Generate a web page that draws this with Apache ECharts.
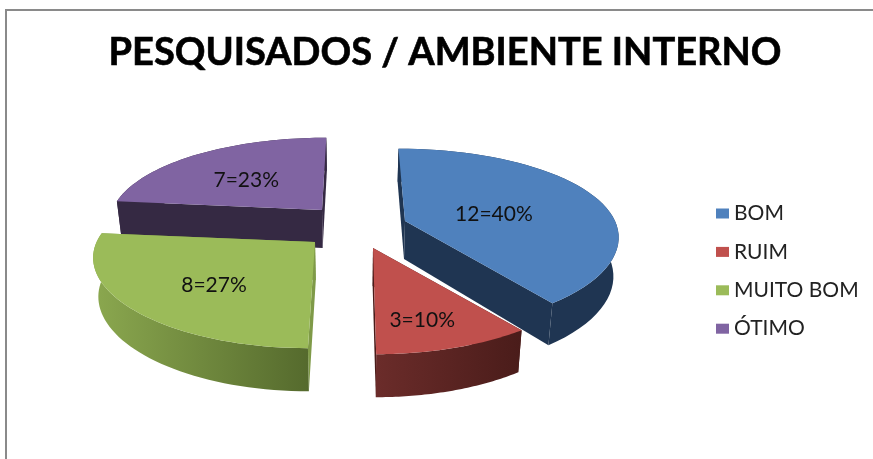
<!DOCTYPE html>
<html>
<head>
<meta charset="utf-8">
<style>html,body{margin:0;padding:0;background:#fff}#c{width:873px;height:459px}</style>
<script src="https://cdn.jsdelivr.net/npm/echarts@6/dist/echarts.min.js"></script>
</head>
<body>
<div id="c"></div>
<script>
const categories = ['BOM', 'RUIM', 'MUITO BOM', 'ÓTIMO'];
const counts = [12, 3, 8, 7];
const percents = [40, 10, 27, 23];
const titleText = 'PESQUISADOS / AMBIENTE INTERNO';

// styling / layout of the drawn 3D pie
const topColors = ['#4f81bd', '#c0504d', '#9bbb59', '#8064a2'];
const cutColors = ['#1f3552', '#4a1c1a', '#7f9a48', '#352943'];
const wallLeft = ['#1f3552', '#6b2c2a', '#8ba84f', '#352943'];
const wallRight = ['#1f3552', '#4a1c1a', '#556a2d', '#352943'];
const apexes = [[405, 221], [373, 248], [315, 242], [322, 210]];
const labelReach = [0.46, 0.72, 0.62, 0.59];
const labelNudgeX = [0, -7, 9, 0];
const radiusScale = [1, 1.04, 1.04, 1];
const seriesZ = [2, 3, 2, 1];
const RX = 210, RY = 86, K = 0.19, KX = 0.15, VX = 355, H = 38, STEPS = 48, LABEL_DY = 5;

const total = counts.reduce((a, b) => a + b, 0);
const starts = [];
counts.reduce((acc, c, i) => { starts[i] = acc; return acc + c; }, 0);

function project(i, r, ang, depth) {
  const u = r * Math.sin(ang), v = -r * Math.cos(ang);
  const s = 1 / (1 - K * v), sx = 1 / (1 - KX * v);
  const [ax, ay] = apexes[i];
  let x = VX + (ax - VX + RX * radiusScale[i] * u) * sx;
  let y = ay + RY * v * s;
  if (depth) {
    x = VX + (x - VX) * 0.98;
    y += H * (1 + 0.7 * K * v);
  }
  return [x, y];
}

function renderSlice(i) {
  return function (params, api) {
    const value = api.value(0);
    const a0 = starts[i] / total * Math.PI * 2;
    const a1 = a0 + value / total * Math.PI * 2;
    const arcTop = [], arcBot = [];
    for (let k = 0; k <= STEPS; k++) {
      const a = a0 + (a1 - a0) * k / STEPS;
      arcTop.push(project(i, 1, a, false));
      arcBot.push(project(i, 1, a, true));
    }
    const apexTop = project(i, 0, 0, false), apexBot = project(i, 0, 0, true);
    const mid = (a0 + a1) / 2;
    const lp = project(i, labelReach[i], mid, false);
    const wallFill = {
      type: 'linear', x: 0, y: 0, x2: 1, y2: 0,
      colorStops: [{ offset: 0, color: wallLeft[i] }, { offset: 1, color: wallRight[i] }]
    };
    const children = [
      { type: 'polygon', shape: { points: [apexTop, arcTop[0], arcBot[0], apexBot] }, style: { fill: cutColors[i] } },
      { type: 'polygon', shape: { points: [apexTop, arcTop[STEPS], arcBot[STEPS], apexBot] }, style: { fill: cutColors[i] } },
      { type: 'polygon', shape: { points: arcTop.concat(arcBot.slice().reverse()) }, style: { fill: wallFill } },
      { type: 'polygon', shape: { points: [apexTop].concat(arcTop) }, style: { fill: topColors[i] } },
      { type: 'text', style: { x: lp[0] + labelNudgeX[i], y: lp[1] + LABEL_DY, text: value + '=' + percents[i] + '%', fill: '#111',
          font: '21px Lato', align: 'center', verticalAlign: 'middle' } }
    ];
    return { type: 'group', children };
  };
}

const chart = echarts.init(document.getElementById('c'), null, { renderer: 'canvas' });
chart.setOption({
  animation: false,
  backgroundColor: '#fff',
  color: topColors,
  title: {
    text: titleText, left: 440, top: 29, textAlign: 'center',
    textStyle: { fontFamily: 'Lato', fontWeight: 'bold', fontSize: 38, color: '#000', textBorderColor: '#000', textBorderWidth: 0.6 }
  },
  legend: {
    orient: 'vertical', left: 711, top: 198, data: categories, icon: 'rect',
    itemWidth: 13, itemHeight: 10, itemGap: 17.4, selectedMode: false,
    textStyle: { fontFamily: 'Lato', fontSize: 21, color: '#222' }
  },
  graphic: [
    { type: 'rect', shape: { x: 5, y: 9, width: 868, height: 2 }, style: { fill: '#8a8a8a' } },
    { type: 'rect', shape: { x: 5, y: 9, width: 2, height: 450 }, style: { fill: '#8a8a8a' } }
  ],
  series: categories.map((name, i) => ({
    type: 'custom', name, coordinateSystem: 'none', z: seriesZ[i],
    renderItem: renderSlice(i),
    encode: { value: 0 },
    data: [[counts[i]]]
  }))
});
</script>
</body>
</html>
